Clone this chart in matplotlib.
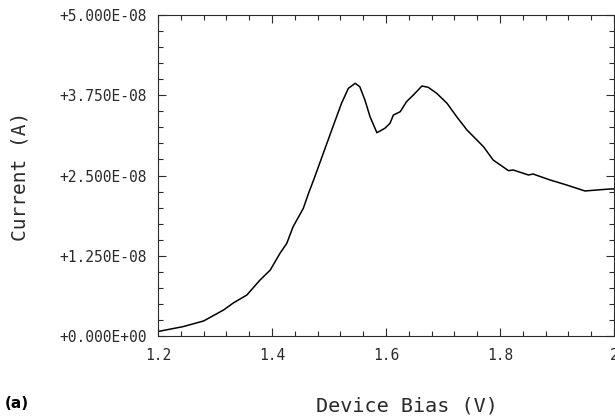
import matplotlib
matplotlib.use("Agg")
import matplotlib.pyplot as plt
from matplotlib.ticker import MultipleLocator, FuncFormatter, FixedLocator, FixedFormatter

# device bias (V) and current (units of 1e-8 A)
bias = [1.200, 1.244, 1.280, 1.315, 1.332, 1.356, 1.379, 1.397, 1.414, 1.426,
        1.437, 1.455, 1.464, 1.473, 1.490, 1.508, 1.522, 1.534, 1.546, 1.554,
        1.563, 1.572, 1.584, 1.598, 1.607, 1.613, 1.625, 1.636, 1.648, 1.663,
        1.674, 1.689, 1.707, 1.724, 1.742, 1.771, 1.788, 1.815, 1.823, 1.850,
        1.858, 1.888, 1.917, 1.949, 1.970, 1.993, 2.000]
current = [0.07, 0.146, 0.234, 0.405, 0.514, 0.639, 0.872, 1.028, 1.288, 1.444,
           1.702, 1.99, 2.22, 2.43, 2.846, 3.287, 3.625, 3.858, 3.936, 3.883,
           3.676, 3.416, 3.167, 3.235, 3.313, 3.442, 3.494, 3.650, 3.754, 3.894,
           3.874, 3.780, 3.625, 3.416, 3.209, 2.949, 2.741, 2.575, 2.586, 2.508,
           2.523, 2.430, 2.352, 2.259, 2.274, 2.290, 2.29]
current = [c * 1e-8 for c in current]

x_ticks = [1.2, 1.4, 1.6, 1.8, 2.0]
x_labels = ["1.2", "1.4", "1.6", "1.8", "2"]
y_ticks = [0.0, 1.25e-8, 2.5e-8, 3.75e-8, 5.0e-8]

mono = "DejaVu Sans Mono"
ink = "#2a2a2a"

fig = plt.figure(figsize=(6.15, 4.2), dpi=100)
ax = fig.add_axes([158 / 615, 0.2, 456 / 615, 321 / 420])

ax.plot(bias, current, color="black", lw=1.1)

ax.set_xlim(1.2, 2.0)
ax.set_ylim(0, 5e-8)

ax.xaxis.set_major_locator(FixedLocator(x_ticks))
ax.xaxis.set_major_formatter(FixedFormatter(x_labels))
ax.xaxis.set_minor_locator(MultipleLocator(0.04))
ax.yaxis.set_major_locator(FixedLocator(y_ticks))
ax.yaxis.set_major_formatter(FuncFormatter(lambda v, p: f"{v:+.3E}"))
ax.yaxis.set_minor_locator(MultipleLocator(0.25e-8))

ax.tick_params(which="both", direction="in", top=True, right=True,
               color=ink, width=0.8)
ax.tick_params(which="major", length=6)
ax.tick_params(which="minor", length=3.5)
ax.tick_params(axis="x", pad=9)
ax.tick_params(axis="y", pad=8)

for lab in ax.get_xticklabels() + ax.get_yticklabels():
    lab.set_fontfamily(mono)
    lab.set_fontsize(10.5)
    lab.set_color(ink)

for s in ax.spines.values():
    s.set_linewidth(0.8)
    s.set_color(ink)

fig.text(407 / 615, 1 - 406 / 420, "Device Bias (V)", family=mono,
         fontsize=14.5, color=ink, ha="center", va="center")
fig.text(20 / 615, 1 - 176 / 420, "Current (A)", family=mono,
         fontsize=14, color=ink, ha="center", va="center", rotation=90)
fig.text(5 / 615, 1 - 403 / 420, "(a)", fontsize=11, fontweight="bold",
         color="black", ha="left", va="center")

fig.savefig("out.png", dpi=100)
